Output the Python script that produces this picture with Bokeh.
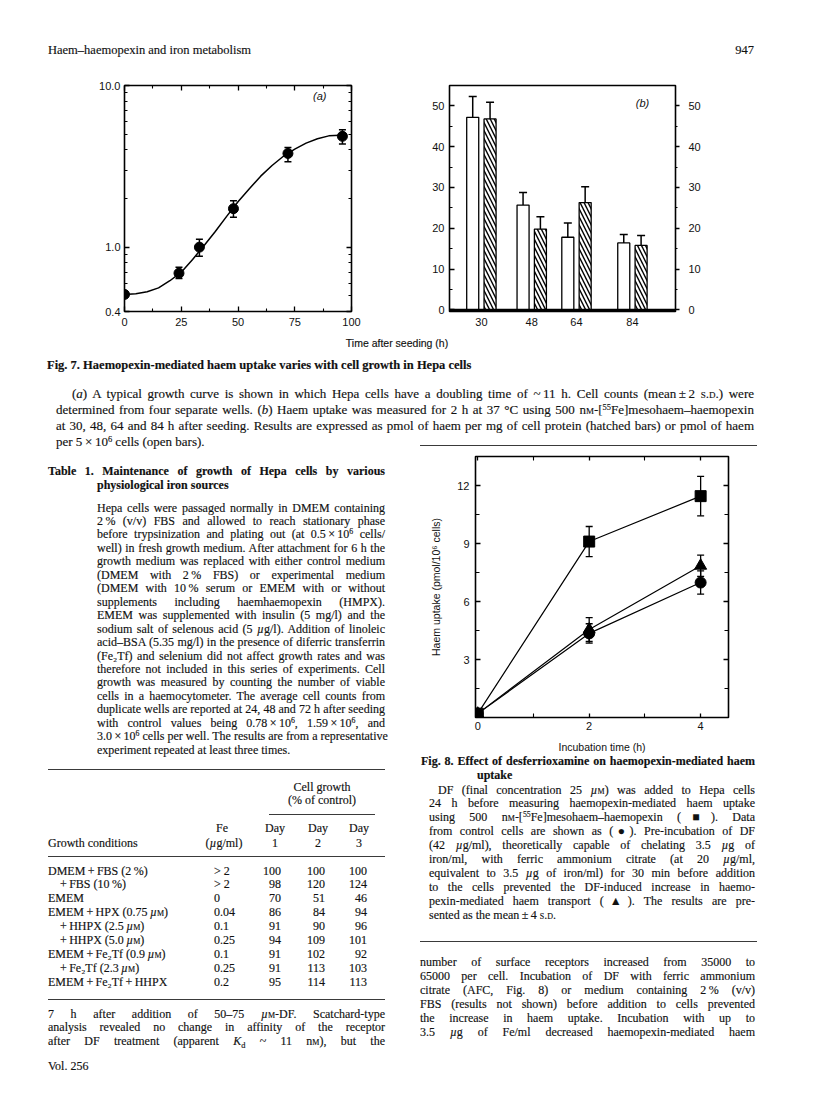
import math
from bokeh.plotting import figure
from bokeh.models import (Range1d, LinearAxis, LogAxis, FixedTicker, PrintfTickFormatter,
                          CustomJSTickFormatter, Label, Whisker, TeeHead, ColumnDataSource,
                          Div, Span)
from bokeh.layouts import column, row
from bokeh.embed import file_html
from bokeh.resources import INLINE

SANS = "Liberation Sans"
SERIF = "Liberation Serif"
INK = "#111111"
TICK_FS = "11px"

# ------------------------------------------------------------------ data
# Fig. 7(a) growth curve (10^6 cells / well)
growth_time_h = [0, 24, 33, 48, 72, 96]
growth_cells = [0.51, 0.69, 1.00, 1.73, 3.80, 4.85]
growth_low = [0.51, 0.64, 0.88, 1.53, 3.37, 4.34]
growth_high = [0.51, 0.75, 1.12, 1.94, 4.13, 5.32]
fit_time_h = [0, 5, 10, 15, 20, 25, 30, 35, 40, 45, 50, 55, 60, 65, 70, 75, 80, 85, 90, 95]
fit_cells = [0.51, 0.515, 0.53, 0.56, 0.62, 0.70, 0.84, 1.02, 1.25, 1.55, 1.91, 2.30,
             2.75, 3.20, 3.65, 4.04, 4.40, 4.68, 4.88, 4.93]
growth_x_ticks = [0, 25, 50, 75, 100]
growth_x_minor = [12.5, 37.5, 62.5, 87.5]
growth_y_ticks = [0.4, 1.0, 10.0]
growth_y_minor = [0.5, 0.6, 0.7, 0.8, 0.9, 2, 3, 4, 5, 6, 7, 8, 9]

# Fig. 7(b) haem uptake
uptake_time_h = [30, 48, 64, 84]
uptake_per_cells = [47.2, 25.7, 17.8, 16.4]        # open bars
uptake_per_cells_sd = [5.1, 3.1, 3.5, 2.1]
uptake_per_protein = [46.8, 19.8, 26.3, 15.8]      # hatched bars
uptake_per_protein_sd = [4.1, 3.0, 3.9, 2.4]
uptake_y_ticks = [0, 10, 20, 30, 40, 50]
uptake_y_minor = [5, 15, 25, 35, 45]

# Fig. 8 desferrioxamine
incubation_time_h = [0, 2, 4]
df_uptake = [0.2, 9.1, 11.45]
df_sd = [0.0, 0.78, 1.02]
control_uptake = [0.2, 4.35, 6.98]
control_sd = [0.0, 0.5, 0.6]
afc_uptake = [0.2, 4.55, 7.85]
afc_sd = [0.0, 0.62, 0.55]
fig8_x_ticks = [0, 2, 4]
fig8_x_minor = [1, 3]
fig8_y_ticks = [3, 6, 9, 12]
fig8_y_minor = [1.5, 4.5, 7.5, 10.5]

# Table 1
UM = "<i>µ</i><span style='font-variant:small-caps'>m</span>"
table_conditions = ["DMEM\u2009+\u2009FBS (2\u2009%)", "+\u2009FBS (10\u2009%)", "EMEM",
                    f"EMEM\u2009+\u2009HPX (0.75\u2009{UM})",
                    f"+\u2009HHPX (2.5\u2009{UM})",
                    f"+\u2009HHPX (5.0\u2009{UM})",
                    f"EMEM\u2009+\u2009Fe\u2082Tf (0.9\u2009{UM})",
                    f"+\u2009Fe\u2082Tf (2.3\u2009{UM})",
                    "EMEM\u2009+\u2009Fe\u2082Tf\u2009+\u2009HHPX"]
table_indent = [0, 1, 0, 0, 1, 1, 0, 1, 0]
table_fe = ["&gt; 2", "&gt; 2", "0", "0.04", "0.1", "0.25", "0.1", "0.25", "0.2"]
table_day1 = [100, 98, 70, 86, 91, 94, 91, 91, 95]
table_day2 = [100, 120, 51, 84, 90, 109, 102, 113, 114]
table_day3 = [100, 124, 46, 94, 96, 101, 92, 103, 113]


# ------------------------------------------------------------------ helpers
def base_fig(**kw):
    p = figure(output_backend="svg", toolbar_location=None, **kw)
    p.outline_line_color = "black"
    p.outline_line_width = 1.6
    p.xgrid.grid_line_color = None
    p.ygrid.grid_line_color = None
    p.background_fill_color = "white"
    p.border_fill_color = "white"
    return p


def style_axis(ax, labels=True, tin=5, tout=0, mtin=3, standoff=5):
    ax.axis_line_color = None
    ax.major_tick_in = tin
    ax.major_tick_out = tout
    ax.minor_tick_in = mtin
    ax.minor_tick_out = 0
    ax.major_tick_line_color = "black"
    ax.minor_tick_line_color = "black"
    ax.major_tick_line_width = 1.3
    ax.minor_tick_line_width = 1.1
    ax.major_label_standoff = standoff
    ax.major_label_text_font = SANS
    ax.major_label_text_font_size = TICK_FS
    ax.major_label_text_color = INK
    ax.axis_label_text_font = SANS
    ax.axis_label_text_font_size = "10.5px"
    ax.axis_label_text_font_style = "normal"
    ax.axis_label_text_color = INK
    if not labels:
        ax.formatter = CustomJSTickFormatter(code="return ''")
        ax.major_label_text_font_size = "0px"
        ax.major_label_standoff = 0


def label(x, y, text, **kw):
    d = dict(x=x, y=y, text=text, text_font=SANS, text_font_size="10.5px",
             text_color=INK, text_align="center", text_baseline="middle")
    d.update(kw)
    return Label(**d)


# ------------------------------------------------------------------ Fig 7(a)
pa = base_fig(width=392, height=260, y_axis_type="log",
              x_range=Range1d(0, 100), y_range=Range1d(0.4, 10.0),
              min_border_left=124, min_border_right=41, min_border_top=13, min_border_bottom=21)
xa = pa.below[0]
xa.ticker = FixedTicker(ticks=growth_x_ticks, minor_ticks=growth_x_minor)
style_axis(xa, standoff=6)
ya = pa.left[0]
ya.ticker = FixedTicker(ticks=growth_y_ticks, minor_ticks=growth_y_minor)
ya.formatter = PrintfTickFormatter(format="%.1f")
style_axis(ya, standoff=4)
ra = LogAxis(ticker=FixedTicker(ticks=growth_y_ticks, minor_ticks=growth_y_minor))
style_axis(ra, labels=False)
pa.add_layout(ra, "right")
ta = LinearAxis(ticker=FixedTicker(ticks=growth_x_ticks, minor_ticks=growth_x_minor))
style_axis(ta, labels=False)
pa.add_layout(ta, "above")

pa.line(fit_time_h, fit_cells, line_color="black", line_width=1.5)
src_a = ColumnDataSource(dict(t=growth_time_h[1:], lo=growth_low[1:], hi=growth_high[1:]))
pa.add_layout(Whisker(source=src_a, base="t", lower="lo", upper="hi", dimension="height",
                      line_width=1.5, line_color="black",
                      upper_head=TeeHead(size=7, line_width=1.5, line_color="black"),
                      lower_head=TeeHead(size=7, line_width=1.5, line_color="black")))
pa.scatter(growth_time_h, growth_cells, size=10, color="black", marker="circle")
pa.add_layout(label(86, 8.6, "(a)", text_font_style="italic", text_font_size="11px"))
pa.add_layout(label(0, 2.44, "10\u207b\u2076 \u00d7 Cells/well", x_offset=-20, angle=math.pi / 2))

# ------------------------------------------------------------------ Fig 7(b)
pb = base_fig(width=408, height=260,
              x_range=Range1d(18.6, 99.4), y_range=Range1d(-0.4, 55.0),
              min_border_left=57, min_border_right=125, min_border_top=13, min_border_bottom=20)
xb = pb.below[0]
xb.ticker = FixedTicker(ticks=uptake_time_h)
style_axis(xb, tin=0, mtin=0, standoff=6)
yb = pb.left[0]
yb.ticker = FixedTicker(ticks=uptake_y_ticks, minor_ticks=uptake_y_minor)
style_axis(yb, standoff=5)
rb = LinearAxis(ticker=FixedTicker(ticks=uptake_y_ticks, minor_ticks=uptake_y_minor))
style_axis(rb, tin=0, tout=4, mtin=0, standoff=9)
rb.minor_tick_out = 2
pb.add_layout(rb, "right")

bar_offset = 3.1
bar_w = 4.3
src_b = ColumnDataSource(dict(
    x_open=[t - bar_offset for t in uptake_time_h],
    x_hatch=[t + bar_offset for t in uptake_time_h],
    cells=uptake_per_cells,
    cells_hi=[v + s for v, s in zip(uptake_per_cells, uptake_per_cells_sd)],
    prot=uptake_per_protein,
    prot_hi=[v + s for v, s in zip(uptake_per_protein, uptake_per_protein_sd)],
))
pb.vbar(x="x_open", top="cells", bottom=0, width=bar_w, source=src_b,
        fill_color="white", line_color="black", line_width=1.3)
pb.vbar(x="x_hatch", top="prot", bottom=0, width=bar_w, source=src_b,
        fill_color="white", line_color="black", line_width=1.3,
        hatch_pattern="\\", hatch_color="black", hatch_scale=8, hatch_weight=1.4)
for xc, lo, hi in (("x_open", "cells", "cells_hi"), ("x_hatch", "prot", "prot_hi")):
    pb.add_layout(Whisker(source=src_b, base=xc, lower=lo, upper=hi, dimension="height",
                          line_width=1.5, line_color="black", lower_head=None,
                          upper_head=TeeHead(size=8, line_width=1.5, line_color="black")))
pb.add_layout(Span(location=0, dimension="width", line_color="black", line_width=2.2))
pb.add_layout(label(87.6, 50.7, "(b)", text_font_style="italic", text_font_size="11px"))
pb.add_layout(label(18.6, 29.0, "Haem uptake (pmol/mg of protein)", x_offset=-35, angle=math.pi / 2))
pb.add_layout(label(99.4, 26.2, "Haem uptake (pmol/5 \u00d7 10\u2076 cells)", x_offset=42, angle=math.pi / 2))

# ------------------------------------------------------------------ Fig 8
p8 = base_fig(width=388, height=310,
              x_range=Range1d(-0.04, 4.5), y_range=Range1d(0, 13.5),
              min_border_left=63, min_border_right=72, min_border_top=9, min_border_bottom=40)
x8 = p8.below[0]
x8.ticker = FixedTicker(ticks=fig8_x_ticks, minor_ticks=fig8_x_minor)
style_axis(x8, tin=4, mtin=4, standoff=4)
x8.axis_label = "Incubation time (h)"
x8.axis_label_standoff = 8
y8 = p8.left[0]
y8.ticker = FixedTicker(ticks=fig8_y_ticks, minor_ticks=fig8_y_minor)
style_axis(y8, tin=5, mtin=4, standoff=6)
y8.axis_label = "Haem uptake (pmol/10\u2076 cells)"
y8.axis_label_standoff = 12
r8 = LinearAxis(ticker=FixedTicker(ticks=fig8_y_ticks, minor_ticks=fig8_y_minor))
style_axis(r8, labels=False, tin=5, mtin=4)
p8.add_layout(r8, "right")
t8 = LinearAxis(ticker=FixedTicker(ticks=fig8_x_ticks, minor_ticks=fig8_x_minor))
style_axis(t8, labels=False, tin=4, mtin=4)
p8.add_layout(t8, "above")

series = [(afc_uptake, afc_sd, "triangle", 12), (control_uptake, control_sd, "circle", 11),
          (df_uptake, df_sd, "square", 11)]
for vals, sd, marker, size in series:
    p8.line(incubation_time_h, vals, line_color="black", line_width=1.2)
for vals, sd, marker, size in series:
    s = ColumnDataSource(dict(t=incubation_time_h[1:],
                              lo=[v - e for v, e in zip(vals[1:], sd[1:])],
                              hi=[v + e for v, e in zip(vals[1:], sd[1:])]))
    p8.add_layout(Whisker(source=s, base="t", lower="lo", upper="hi", dimension="height",
                          line_width=1.3, line_color="black",
                          upper_head=TeeHead(size=7, line_width=1.3, line_color="black"),
                          lower_head=TeeHead(size=7, line_width=1.3, line_color="black")))
for vals, sd, marker, size in series:
    p8.scatter(incubation_time_h, vals, marker=marker, size=size, color="black")


# ------------------------------------------------------------------ page text
def sc(s):
    return f"<span style='font-variant:small-caps'>{s}</span>"


def sup(s):
    return f"<sup style='font-size:0.65em;line-height:0;vertical-align:0.5em'>{s}</sup>"


MU = "<i>µ</i>"


class Page:
    def __init__(self, ox, oy, w, h):
        self.ox, self.oy, self.w, self.h = ox, oy, w, h
        self.parts = []

    def text(self, x, y, w, html, mode="justify", size=12, weight="normal", lh=13, font=SERIF):
        top = y - lh / 2 - self.oy
        left = x - self.ox
        if mode == "justify":
            align = "text-align:justify;text-align-last:justify;"
        else:
            align = f"text-align:{mode};"
        self.parts.append(
            f"<div style=\"position:absolute;left:{left:.1f}px;top:{top:.1f}px;width:{w:.1f}px;"
            f"height:{lh}px;line-height:{lh}px;font-size:{size}px;font-weight:{weight};"
            f"font-family:'{font}';white-space:nowrap;-webkit-text-stroke:0.15px {INK};{align}\">{html}</div>")

    def rule(self, x0, x1, y, t=1.3):
        self.parts.append(
            f"<div style=\"position:absolute;left:{x0 - self.ox:.1f}px;top:{y - self.oy - t / 2:.1f}px;"
            f"width:{x1 - x0:.1f}px;height:0;border-top:{t}px solid #3a3a3a\"></div>")

    def div(self):
        inner = "".join(self.parts)
        return Div(text=f"<div style=\"position:relative;width:{self.w}px;height:{self.h}px;"
                        f"color:{INK};font-family:'{SERIF}'\">{inner}</div>",
                   width=self.w, height=self.h, disable_math=True, margin=(0, 0, 0, 0))


# header
hd = Page(8, 8, 800, 72)
hd.text(56, 58, 400, "Haem–haemopexin and iron metabolism", mode="left", size=12.5)
hd.text(700, 58, 62, "947", mode="right", size=12.5)

# Fig 7 caption block
md = Page(8, 340, 800, 115)
md.text(305, 351, 200, "Time after seeding (h)", mode="center", size=10.5, font=SANS)
md.text(55, 373, 700, "Fig. 7. Haemopexin-mediated haem uptake varies with cell growth in Hepa cells",
        mode="left", weight="bold", size=12.5, lh=15)
cap7 = [
    f"(<i>a</i>) A typical growth curve is shown in which Hepa cells have a doubling time of ~\u200911 h. Cell counts (mean\u2009±\u20092 {sc('s.d.')}) were",
    f"determined from four separate wells. (<i>b</i>) Haem uptake was measured for 2 h at 37 °C using 500 n{sc('m')}-[{sup('55')}Fe]mesohaem–haemopexin",
    "at 30, 48, 64 and 84 h after seeding. Results are expressed as pmol of haem per mg of cell protein (hatched bars) or pmol of haem",
    f"per 5\u2009×\u200910{sup('6')} cells (open bars).",
]
for i, line in enumerate(cap7):
    x = 80 if i == 0 else 64
    md.text(x, 401 + 16 * i, 762 - x, line, mode="justify" if i < 3 else "left", size=13, lh=15)
md.rule(428, 765, 454)

# left column
lf = Page(8, 455, 412, 642)
lf.text(56, 479, 337, "Table 1. Maintenance of growth of Hepa cells by various", weight="bold")
lf.text(105, 493, 288, "physiological iron sources", mode="left", weight="bold")
tab_para = [
    "Hepa cells were passaged normally in DMEM containing",
    "2\u2009% (v/v) FBS and allowed to reach stationary phase",
    f"before trypsinization and plating out (at 0.5\u2009×\u200910{sup('6')} cells/",
    "well) in fresh growth medium. After attachment for 6 h the",
    "growth medium was replaced with either control medium",
    "(DMEM with 2\u2009% FBS) or experimental medium",
    "(DMEM with 10\u2009% serum or EMEM with or without",
    "supplements including haemhaemopexin (HMPX).",
    "EMEM was supplemented with insulin (5 mg/l) and the",
    f"sodium salt of selenous acid (5 {MU}g/l). Addition of linoleic",
    "acid–BSA (5.35 mg/l) in the presence of diferric transferrin",
    "(Fe\u2082Tf) and selenium did not affect growth rates and was",
    "therefore not included in this series of experiments. Cell",
    "growth was measured by counting the number of viable",
    "cells in a haemocytometer. The average cell counts from",
    "duplicate wells are reported at 24, 48 and 72 h after seeding",
    f"with control values being 0.78\u2009×\u200910{sup('6')}, 1.59\u2009×\u200910{sup('6')}, and",
    f"3.0\u2009×\u200910{sup('6')} cells per well. The results are from a representative",
    "experiment repeated at least three times.",
]
for i, line in enumerate(tab_para):
    lf.text(105, 516 + 13.45 * i, 288, line, mode="justify" if i < len(tab_para) - 1 else "left")
lf.rule(56, 393, 778)
lf.text(280, 795, 100, "Cell growth", mode="center")
lf.text(280, 808, 100, "(% of control)", mode="center")
lf.rule(277, 383, 823, t=1.1)
lf.text(200, 836, 60, "Fe", mode="center")
lf.text(200, 851, 64, f"({MU}g/ml)", mode="center")
lf.text(56, 851, 150, "Growth conditions", mode="left")
for cx, d in ((283, "1"), (326, "2"), (367, "3")):
    lf.text(cx - 20, 836, 40, "Day", mode="center")
    lf.text(cx - 20, 851, 40, d, mode="center")
lf.rule(56, 393, 865)
for i in range(len(table_conditions)):
    y = 879 + 13.9 * i
    lf.text(56 + 12 * table_indent[i], y, 150, table_conditions[i], mode="left")
    lf.text(222, y, 40, table_fe[i], mode="left")
    lf.text(249, y, 40, str(table_day1[i]), mode="right")
    lf.text(293, y, 40, str(table_day2[i]), mode="right")
    lf.text(335, y, 40, str(table_day3[i]), mode="right")
lf.rule(56, 393, 1008)
after = [
    f"7 h after addition of 50–75 {MU}{sc('m')}-DF. Scatchard-type",
    "analysis revealed no change in affinity of the receptor",
    f"after DF treatment (apparent <i>K</i><sub style='font-size:0.7em;line-height:0'>d</sub> ~ 11 n{sc('m')}), but the",
]
for i, line in enumerate(after):
    lf.text(56, 1022 + 13.5 * i, 337, line)
lf.text(56, 1074, 120, "Vol. 256", mode="left")

# right column text
rt = Page(420, 765, 388, 332)
rt.text(429, 769, 334, "Fig. 8. Effect of desferrioxamine on haemopexin-mediated haem", weight="bold")
rt.text(485, 783, 200, "uptake", mode="left", weight="bold")
cap8 = [
    f"DF (final concentration 25 {MU}{sc('m')}) was added to Hepa cells",
    "24 h before measuring haemopexin-mediated haem uptake",
    f"using 500 n{sc('m')}-[{sup('55')}Fe]mesohaem–haemopexin (■). Data",
    "from control cells are shown as (●). Pre-incubation of DF",
    f"(42 {MU}g/ml), theoretically capable of chelating 3.5 {MU}g of",
    f"iron/ml, with ferric ammonium citrate (at 20 {MU}g/ml,",
    f"equivalent to 3.5 {MU}g of iron/ml) for 30 min before addition",
    "to the cells prevented the DF-induced increase in haemo-",
    "pexin-mediated haem transport (▲). The results are pre-",
    f"sented as the mean\u2009±\u20094 {sc('s.d.')}",
]
for i, line in enumerate(cap8):
    x = 446 if i == 0 else 437
    rt.text(x, 798 + 13.9 * i, 763 - x, line, mode="justify" if i < len(cap8) - 1 else "left")
rt.rule(428, 765, 950)
body_r = [
    "number of surface receptors increased from 35000 to",
    "65000 per cell. Incubation of DF with ferric ammonium",
    "citrate (AFC, Fig. 8) or medium containing 2\u2009% (v/v)",
    "FBS (results not shown) before addition to cells prevented",
    "the increase in haem uptake. Incubation with up to",
    f"3.5 {MU}g of Fe/ml decreased haemopexin-mediated haem",
]
for i, line in enumerate(body_r):
    rt.text(428, 970 + 14 * i, 335, line)

layout = column(
    hd.div(),
    row(pa, pb),
    md.div(),
    row(lf.div(), column(p8, rt.div())),
)

open("out.html", "w").write(file_html(layout, INLINE, title="Haem-haemopexin and iron metabolism"))
